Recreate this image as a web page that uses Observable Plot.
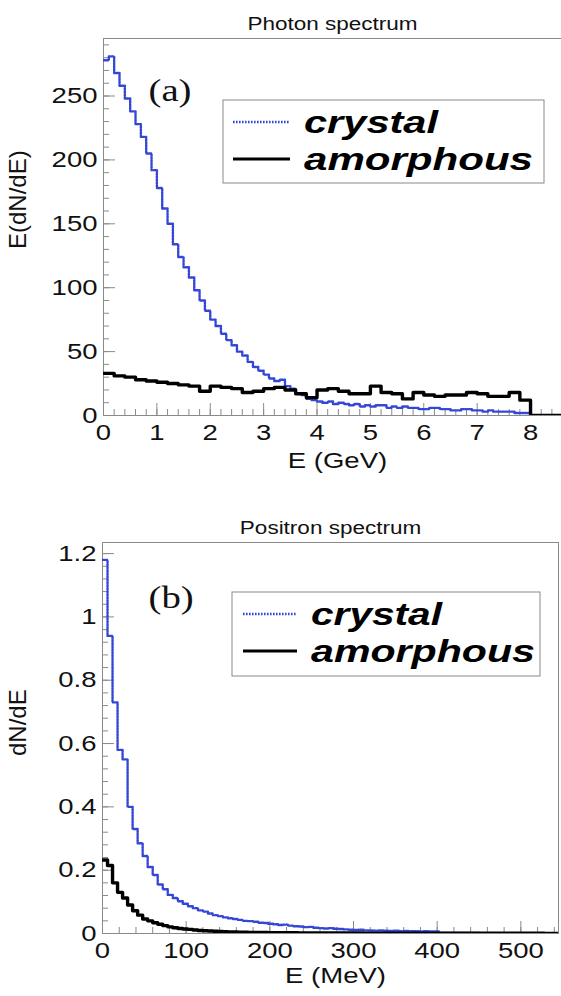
<!DOCTYPE html>
<html><head><meta charset="utf-8">
<script src="https://cdn.jsdelivr.net/npm/d3@7"></script>
<script src="https://cdn.jsdelivr.net/npm/@observablehq/plot@0.6"></script>
<style>
body{margin:0;background:#fff;}
#wrap{position:relative;width:561px;height:996px;overflow:hidden;background:#fff;}
#wrap svg{display:block}
#overlay{position:absolute;left:0;top:0;pointer-events:none}
</style></head><body><div id="wrap"></div>
<script>
// ---------------- data ----------------
const seriesNames = ["crystal", "amorphous"];

// Photon spectrum, E (GeV) ; E(dN/dE)
const photonCrystalBin = 0.1;
const photonCrystal = [
  278, 281, 268, 258, 248, 238, 228, 218, 205, 192,
  178, 162, 150, 134, 124, 116, 108, 98, 90, 82,
  75, 70, 64, 59, 55, 50, 47, 42, 38, 35,
  32, 29, 27, 28, 23, 21, 17, 16, 13, 12,
  11, 10, 11, 9, 10, 9, 8, 9, 7, 8,
  7, 8, 8, 6, 7, 6, 7, 6, 6, 5,
  5, 6, 6, 5, 5, 4, 4, 5, 5, 4,
  4, 3, 4, 3, 3, 3, 3, 2, 2, 2,
  0, 0, 0, 0, 0, 0
];
const photonAmorphousBin = 0.2;
const photonAmorphous = [
  33, 31, 30, 28, 27, 26, 25, 24, 23, 19,
  23, 22, 21, 18, 19, 21, 22, 20, 17, 14,
  20, 21, 19, 17, 17, 23, 18, 17, 13, 18,
  16, 15, 16, 16, 18, 17, 15, 15, 18, 12,
  0, 0, 0
];
const photonXTicks = [0, 1, 2, 3, 4, 5, 6, 7, 8];
const photonXMinor = d3.range(0, 8.6, 0.2);
const photonYTicks = [0, 50, 100, 150, 200, 250];
const photonYMinor = d3.range(0, 295, 10);

// Positron spectrum, E (MeV) ; dN/dE
const positronBin = 6;
const positronCrystal = [
  1.18, 0.94, 0.73, 0.58, 0.55, 0.40, 0.33, 0.285, 0.245, 0.21,
  0.185, 0.155, 0.14, 0.122, 0.112, 0.102, 0.094, 0.086, 0.08, 0.073,
  0.069, 0.063, 0.058, 0.055, 0.051, 0.048, 0.046, 0.043, 0.04, 0.039,
  0.037, 0.034, 0.033, 0.031, 0.029, 0.027, 0.028, 0.025, 0.023, 0.022,
  0.02, 0.021, 0.018, 0.017, 0.016, 0.017, 0.015, 0.014, 0.013, 0.012,
  0.011, 0.012, 0.01, 0.0095, 0.009, 0.0097, 0.0085, 0.008, 0.0087, 0.0075,
  0.008, 0.007, 0.0073, 0.0068, 0.0071, 0.0065, 0.0062, 0.002, 0.0018, 0.0017,
  0.0016, 0.0015, 0.0015, 0.0014, 0.0014, 0.0013, 0.0013, 0.0012, 0.0012, 0.0011,
  0.0011, 0.001, 0.001, 0.001, 0.0009, 0.0009, 0.0009, 0.0008, 0.0008, 0.0008,
  0.0007
];
const positronAmorphous = [
  0.232, 0.215, 0.16, 0.13, 0.112, 0.09, 0.072, 0.058, 0.046, 0.04,
  0.034, 0.029, 0.025, 0.021, 0.018, 0.016, 0.014, 0.013, 0.011, 0.0097,
  0.0087, 0.0077, 0.007, 0.0063, 0.0057, 0.0052, 0.0048, 0.0044, 0.004, 0.0037,
  0.0035, 0.0032, 0.003, 0.0028, 0.0026, 0.0025, 0.0024, 0.0023, 0.0022, 0.0021,
  0.002, 0.0019, 0.0019, 0.0018, 0.0017, 0.0017, 0.0016, 0.0016, 0.0015, 0.0015,
  0.0014, 0.0014, 0.0013, 0.0013, 0.0013, 0.0012, 0.0012, 0.0012, 0.0011, 0.0011,
  0.0011, 0.001, 0.001, 0.001, 0.001, 0.0009, 0.0009, 0.0009, 0.0009, 0.0009,
  0.0008, 0.0008, 0.0008, 0.0008, 0.0008, 0.0007, 0.0007, 0.0007, 0.0007, 0.0007,
  0.0007, 0.0006, 0.0006, 0.0006, 0.0006, 0.0006, 0.0006, 0.0006, 0.0005, 0.0005,
  0.0005
];
const positronXTicks = [0, 100, 200, 300, 400, 500];
const positronXMinor = d3.range(0, 545, 20);
const positronYTicks = [0, 0.2, 0.4, 0.6, 0.8, 1, 1.2];
const positronYMinor = d3.range(0, 1.23, 0.04);

// ---------------- helpers ----------------
const BLUE = "#3446d6";
const FRAME = "#8a8a8a";
const SANS = "'Liberation Sans', Arial, Helvetica, sans-serif";
const SERIF = "'Liberation Serif', 'Times New Roman', serif";

function steps(values, w) {
  const pts = values.map((v, i) => ({x: i * w, y: v}));
  pts.push({x: values.length * w, y: values[values.length - 1]});
  return pts;
}

function panel(cfg) {
  const fw = cfg.width - cfg.ml - cfg.mr;
  const fh = cfg.height - cfg.mt - cfg.mb;
  return Plot.plot({
    width: cfg.width, height: cfg.height,
    marginTop: cfg.mt, marginBottom: cfg.mb, marginLeft: cfg.ml, marginRight: cfg.mr,
    x: {domain: cfg.xDomain},
    y: {domain: cfg.yDomain},
    style: {fontFamily: SANS, fontSize: "22px", color: "#111", background: "#fff", overflow: "visible"},
    marks: [
      Plot.frame({stroke: FRAME, strokeWidth: 1}),
      Plot.tickX(cfg.xMinor, {x: d => d, insetTop: fh - 6, stroke: FRAME}),
      Plot.tickX(cfg.xTicks, {x: d => d, insetTop: fh - 12, stroke: FRAME}),
      Plot.tickY(cfg.yMinor, {y: d => d, insetRight: fw - 6, stroke: FRAME}),
      Plot.tickY(cfg.yTicks, {y: d => d, insetRight: fw - 12, stroke: FRAME}),
      Plot.axisX(cfg.xTicks, {tickSize: 0, tickPadding: 9, fontSize: 22, label: null, tickFormat: d => String(d)}),
      Plot.axisY(cfg.yTicks, {tickSize: 0, tickPadding: 6, fontSize: 22, label: null, tickFormat: d => String(d)}),
      Plot.line(steps(cfg.crystal, cfg.crystalBin), {x: "x", y: "y", curve: "step-after", stroke: BLUE, strokeWidth: 2.4, strokeDasharray: "1.6,1.4", clip: true}),
      Plot.line(steps(cfg.amorphous, cfg.amorphousBin), {x: "x", y: "y", curve: "step-after", stroke: "#000", strokeWidth: 3.4, clip: true}),
      Plot.text([cfg.title], {frameAnchor: "top", dy: -21, fontSize: 18, fill: "#111"}),
      Plot.text([cfg.xLabel], {frameAnchor: "bottom", dx: 5, dy: cfg.xLabelDy, fontSize: 22, fill: "#111"}),
      Plot.text([cfg.yLabel], {frameAnchor: "left", rotate: -90, dx: -cfg.ml + 18, dy: cfg.yLabelDy, fontSize: 24, fill: "#111"}),
      Plot.text([cfg.tag], {frameAnchor: "top-left", textAnchor: "start", dx: cfg.tagDx, dy: cfg.tagDy, fontFamily: SERIF, fontSize: 31, fill: "#111"})
    ]
  });
}

const wrap = document.getElementById("wrap");

const topChart = panel({
  width: 561, height: 498, mt: 38, mb: 83, ml: 103, mr: 0,
  xDomain: [0, 8.58], yDomain: [0, 295],
  xTicks: photonXTicks, xMinor: photonXMinor, yTicks: photonYTicks, yMinor: photonYMinor,
  crystal: photonCrystal, crystalBin: photonCrystalBin,
  amorphous: photonAmorphous, amorphousBin: photonAmorphousBin,
  title: "Photon spectrum", xLabel: "E (GeV)", yLabel: "E(dN/dE)",
  xLabelDy: 52, yLabelDy: 22, tag: "(a)", tagDx: 45, tagDy: 40
});
const bottomChart = panel({
  width: 561, height: 498, mt: 44, mb: 63, ml: 102, mr: 3,
  xDomain: [0, 545], yDomain: [0, 1.235],
  xTicks: positronXTicks, xMinor: positronXMinor, yTicks: positronYTicks, yMinor: positronYMinor,
  crystal: positronCrystal, crystalBin: positronBin,
  amorphous: positronAmorphous, amorphousBin: positronBin,
  title: "Positron spectrum", xLabel: "E (MeV)", yLabel: "dN/dE",
  xLabelDy: 49, yLabelDy: 18, tag: "(b)", tagDx: 46, tagDy: 43
});
wrap.appendChild(topChart);
wrap.appendChild(bottomChart);

// horizontal stretch of text, as in the reference figure
for (const svg of [topChart, bottomChart]) {
  svg.querySelectorAll("text").forEach(t => {
    const tr = t.getAttribute("transform") || "";
    if (tr.includes("rotate")) return;
    const len = t.getComputedTextLength();
    if (len > 0) {
      t.setAttribute("textLength", (len * 1.25).toFixed(1));
      t.setAttribute("lengthAdjust", "spacingAndGlyphs");
    }
  });
}

// legends (overlay)
const overlay = d3.select(wrap).append("svg").attr("id", "overlay").attr("width", 561).attr("height", 996);
function legend(box) {
  const g = overlay.append("g");
  g.append("rect").attr("x", box.x).attr("y", box.y).attr("width", box.w).attr("height", box.h)
    .attr("fill", "#fff").attr("stroke", FRAME).attr("stroke-width", 1);
  const styles = [
    {stroke: BLUE, width: 2.4, dash: "1.6,1.4"},
    {stroke: "#000", width: 3.2, dash: null}
  ];
  seriesNames.forEach((name, i) => {
    const cy = box.rows[i];
    g.append("line").attr("x1", box.lx1).attr("x2", box.lx2).attr("y1", cy).attr("y2", cy)
      .attr("stroke", styles[i].stroke).attr("stroke-width", styles[i].width)
      .attr("stroke-dasharray", styles[i].dash);
    g.append("text").attr("x", box.tx).attr("y", cy + 11)
      .attr("font-family", SANS).attr("font-weight", "bold").attr("font-style", "italic")
      .attr("font-size", 32).attr("fill", "#000")
      .attr("textLength", box.tw[i]).attr("lengthAdjust", "spacingAndGlyphs")
      .text(name);
  });
}
legend({x: 223, y: 100, w: 321, h: 83, rows: [122, 159], lx1: 233, lx2: 290, tx: 304, tw: [134, 229]});
legend({x: 232, y: 592, w: 308, h: 84, rows: [614, 651], lx1: 243, lx2: 297, tx: 311, tw: [131, 224]});
</script>
</body></html>
